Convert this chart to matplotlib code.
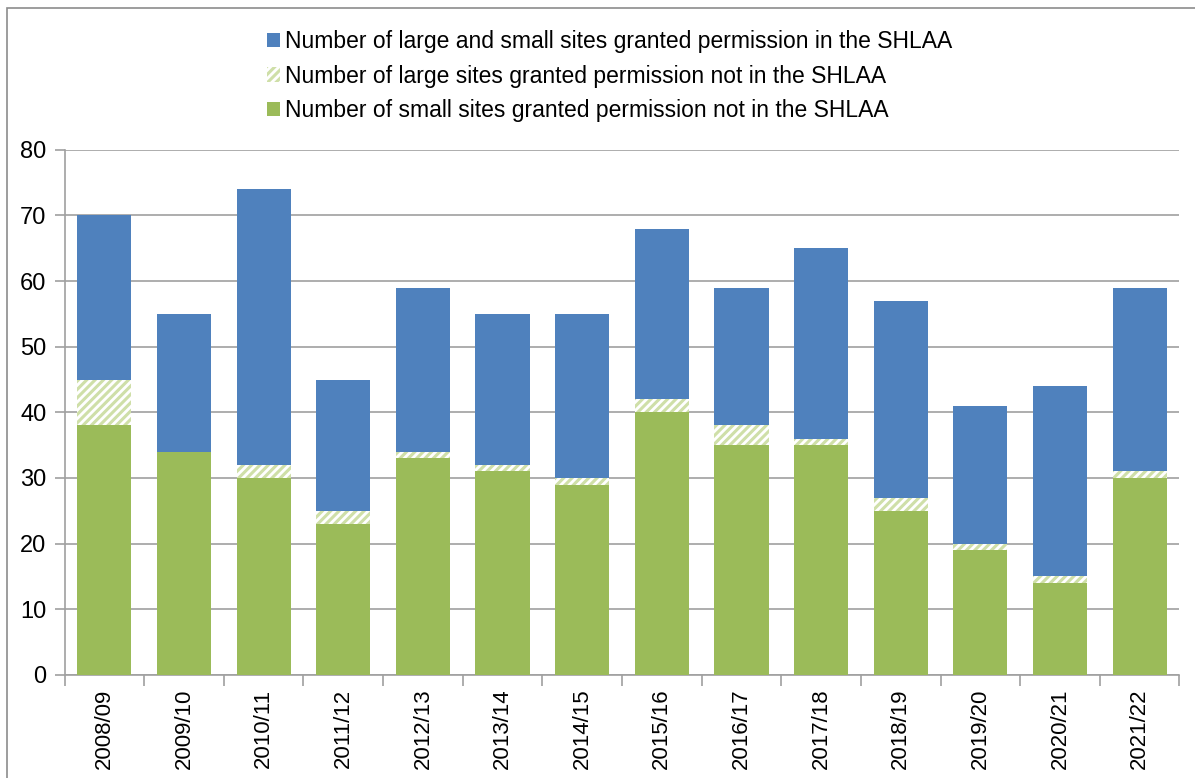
import matplotlib.pyplot as plt
import numpy as np
from matplotlib.patches import Rectangle

plt.rcParams['font.family'] = ['Liberation Sans', 'DejaVu Sans']
plt.rcParams['hatch.linewidth'] = 2.2

years = ['2008/09', '2009/10', '2010/11', '2011/12', '2012/13', '2013/14', '2014/15',
         '2015/16', '2016/17', '2017/18', '2018/19', '2019/20', '2020/21', '2021/22']
small_not_shlaa = [38, 34, 30, 23, 33, 31, 29, 40, 35, 35, 25, 19, 14, 30]
large_not_shlaa = [7, 0, 2, 2, 1, 1, 1, 2, 3, 1, 2, 1, 1, 1]
in_shlaa = [25, 21, 42, 20, 25, 23, 25, 26, 21, 29, 30, 21, 29, 28]

blue = '#4F81BD'
green = '#9BBB59'
grid_c = '#A0A0A0'

fig = plt.figure(figsize=(11.95, 7.78), dpi=100)
ax = fig.add_axes([0.054, 0.1325, 0.933, 0.675])

x = np.arange(len(years))
w = 0.68
small = np.array(small_not_shlaa)
large = np.array(large_not_shlaa)

b3 = ax.bar(x, small, w, color=green, linewidth=0, zorder=3,
            label='Number of small sites granted permission not in the SHLAA')
b2 = ax.bar(x, large, w, bottom=small, facecolor='white', edgecolor='#CFDFA8',
            hatch='////', linewidth=0, zorder=3,
            label='Number of large sites granted permission not in the SHLAA')
b1 = ax.bar(x, in_shlaa, w, bottom=small + large, color=blue, linewidth=0, zorder=3,
            label='Number of large and small sites granted permission in the SHLAA')

ax.set_xlim(-0.5, len(years) - 0.5)
ax.set_ylim(0, 80)
ax.set_yticks(range(0, 81, 10))
ax.yaxis.grid(True, color=grid_c, linewidth=1.2, zorder=0)
ax.set_axisbelow(True)

ax.set_xticks(x)
ax.set_xticklabels(years, rotation=90, fontsize=16)
ax.tick_params(axis='x', length=0, pad=10)
ax.set_xticks(np.arange(-0.5, len(years), 1), minor=True)
ax.tick_params(axis='x', which='minor', length=8, color=grid_c, width=1.2)
ax.tick_params(axis='y', labelsize=17, length=7, color=grid_c, width=1.2, pad=6)

for s in ['top', 'right']:
    ax.spines[s].set_visible(False)
for s in ['left', 'bottom']:
    ax.spines[s].set_color(grid_c)
    ax.spines[s].set_linewidth(1.2)

fig.legend(handles=[b1, b2, b3], loc='center', bbox_to_anchor=(0.51, 0.902),
           ncol=1, frameon=False, fontsize=16.5, handlelength=0.6, handleheight=0.6,
           handletextpad=0.2, labelspacing=0.5)

fig.patches.append(Rectangle((7 / 1195, -0.01), 1.0, 1 - 8 / 778 + 0.01,
                             transform=fig.transFigure, fill=False,
                             edgecolor='#8C8C8C', linewidth=1.2))

fig.savefig('out.png', dpi=100)
